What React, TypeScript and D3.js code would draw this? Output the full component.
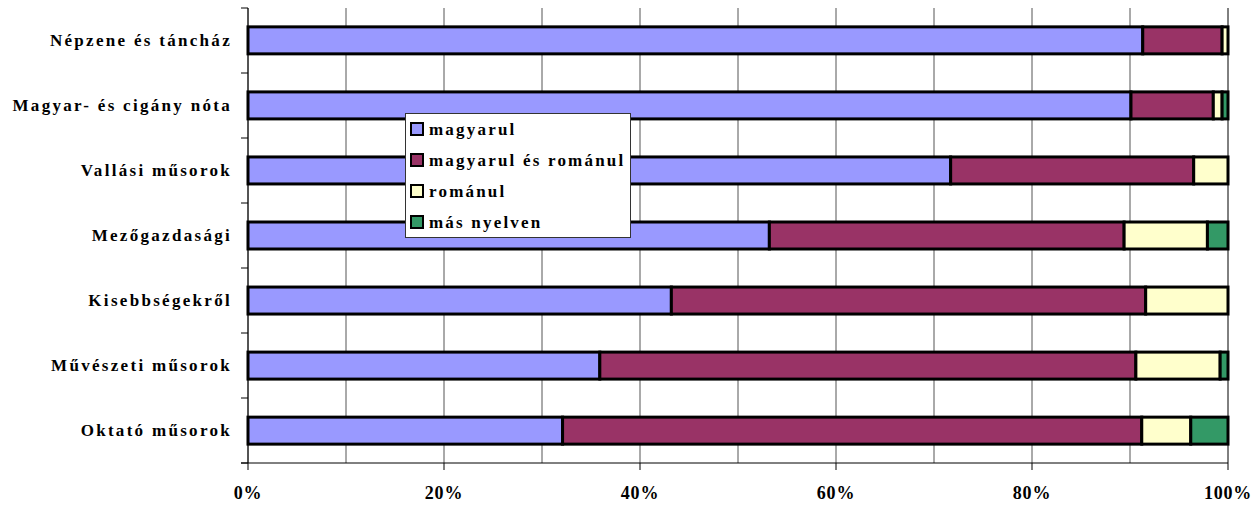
import React from "react";
import * as d3 from "d3";

const categories = [
  "Népzene és táncház",
  "Magyar- és cigány nóta",
  "Vallási műsorok",
  "Mezőgazdasági",
  "Kisebbségekről",
  "Művészeti műsorok",
  "Oktató műsorok",
];
const seriesNames = ["magyarul", "magyarul és románul", "románul", "más nyelven"];
const magyarul = [91.3, 90.1, 71.7, 53.2, 43.2, 35.9, 32.1];
const magyarulEsRomanul = [8.1, 8.4, 24.8, 36.2, 48.4, 54.7, 59.1];
const romanul = [0.6, 0.9, 3.5, 8.5, 8.4, 8.6, 5.0];
const masNyelven = [0, 0.6, 0, 2.1, 0, 0.8, 3.8];
const xTicks = [0, 20, 40, 60, 80, 100];
const colors = ["#9999FF", "#993366", "#FFFFCC", "#339966"];

const W = 1256, H = 505;
const left = 248, right = 1228, top = 8, bottom = 463;
const font = "'Liberation Serif', 'Times New Roman', serif";

export default function App() {
  const x = d3.scaleLinear().domain([0, 100]).range([left, right]);
  const y = d3.scaleBand().domain(categories).range([top, bottom]).paddingInner(0.585).paddingOuter(0.29);
  const yOuter = d3.scaleBand().domain(categories).range([top, bottom]);
  const series = [magyarul, magyarulEsRomanul, romanul, masNyelven];
  const rows = categories.map((c, i) => {
    const r: any = { cat: c };
    seriesNames.forEach((s, j) => (r[s] = series[j][i]));
    return r;
  });
  const stacked = d3.stack().keys(seriesNames)(rows);
  const grid = d3.range(0, 101, 10);

  return (
    <svg width={W} height={H} style={{ position: "absolute", left: 0, top: 0, background: "#fff" }}>
      {grid.map((g) => (
        <line key={g} x1={x(g)} x2={x(g)} y1={top} y2={bottom} stroke={g === 100 ? "#000" : "#555"} strokeWidth={1} />
      ))}
      {stacked.map((s, j) =>
        s.map((d, i) => {
          const w = x(d[1]) - x(d[0]);
          if (w <= 0) return null;
          return (
            <rect
              key={j + "-" + i}
              x={x(d[0])}
              y={y(categories[i])}
              width={w}
              height={y.bandwidth()}
              fill={colors[j]}
              stroke="#000"
              strokeWidth={3}
            />
          );
        })
      )}
      {/* y axis */}
      <line x1={left} x2={left} y1={top} y2={bottom} stroke="#000" strokeWidth={1} />
      {categories.map((c) => (
        <line key={"t" + c} x1={left - 7} x2={left} y1={yOuter(c)!} y2={yOuter(c)!} stroke="#000" />
      ))}
      <line x1={left - 7} x2={left} y1={bottom} y2={bottom} stroke="#000" />
      {categories.map((c) => (
        <text
          key={"l" + c}
          x={232}
          y={yOuter(c)! + yOuter.bandwidth() / 2}
          dy="0.35em"
          textAnchor="end"
          fontFamily={font}
          fontWeight="bold"
          fontSize={17}
          letterSpacing={2.3}
        >
          {c}
        </text>
      ))}
      {/* x axis */}
      <line x1={left - 7} x2={right} y1={bottom} y2={bottom} stroke="#000" strokeWidth={1} />
      {xTicks.map((t) => (
        <g key={"x" + t}>
          <line x1={x(t)} x2={x(t)} y1={bottom} y2={bottom + 7} stroke="#000" />
          <text x={x(t)} y={499} textAnchor="middle" fontFamily={font} fontWeight="bold" fontSize={18} letterSpacing={0.8}>
            {t + "%"}
          </text>
        </g>
      ))}
      {/* legend */}
      <rect x={405.5} y={113.5} width={225} height={124} fill="#fff" stroke="#333" strokeWidth={1} />
      {seriesNames.map((s, j) => (
        <g key={"lg" + s}>
          <rect x={411} y={123 + j * 31} width={12} height={12} fill={colors[j]} stroke="#000" strokeWidth={2} />
          <text x={429} y={129 + j * 31} dy="0.35em" fontFamily={font} fontWeight="bold" fontSize={17} letterSpacing={2.2}>
            {s}
          </text>
        </g>
      ))}
    </svg>
  );
}
